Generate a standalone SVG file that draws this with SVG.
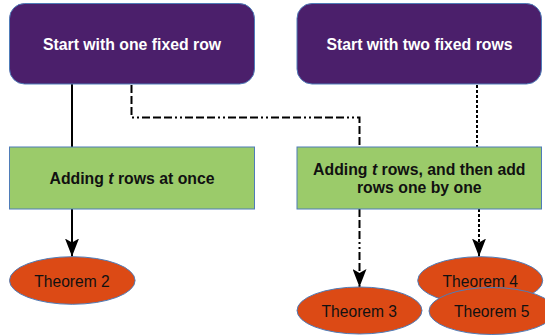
<svg xmlns="http://www.w3.org/2000/svg" width="545" height="335" viewBox="0 0 545 335">
<style>
.start{fill:#4b1f6b;stroke:#4f7cb8;stroke-width:1}
.step{fill:#9bcb6a;stroke:#4f7cb8;stroke-width:1}
.thm{fill:#dc4a15;stroke:#4f7cb8;stroke-width:1}
.wt{font-family:"Liberation Sans",Arial,sans-serif;font-size:15.8px;font-weight:bold;fill:#ffffff;text-anchor:middle}
.bt{font-family:"Liberation Sans",Arial,sans-serif;font-size:15.8px;font-weight:bold;fill:#111111;text-anchor:middle}
.tt{font-family:"Liberation Sans",Arial,sans-serif;font-size:15.6px;fill:#111111;text-anchor:middle}
.c{fill:none;stroke:#000;stroke-width:2}
.dd{stroke-dasharray:8 3 8 3 8 3 2 3 2 3}
.dot{stroke-dasharray:3 2}
</style>
<defs>
<marker id="ah" markerUnits="userSpaceOnUse" viewBox="0 0 18 14" refX="18" refY="7" markerWidth="18" markerHeight="14" orient="auto">
<path d="M0,0 L18,7 L0,14 L4,7 Z" fill="#000"/>
</marker>
</defs>
<g id="connectors">
<line class="c" x1="72" y1="84" x2="72" y2="147"/>
<line class="c" x1="72" y1="209" x2="72" y2="256.5" marker-end="url(#ah)"/>
<polyline class="c dd" points="131.5,85 131.5,117.5 359.5,117.5 359.5,147"/>
<line class="c dot" x1="477" y1="85" x2="477" y2="147"/>
<line class="c dd" x1="359.5" y1="209" x2="359.5" y2="287" marker-end="url(#ah)"/>
<line class="c dot" x1="479" y1="209" x2="479" y2="256.5" marker-end="url(#ah)"/>
</g>
<g id="start1">
<rect class="start" x="9.5" y="3.5" width="245" height="80.5" rx="15"/>
<text class="wt" x="132" y="49.5">Start with one fixed row</text>
</g>
<g id="start2">
<rect class="start" x="297" y="3.5" width="244.5" height="80.5" rx="15"/>
<text class="wt" x="419.5" y="49.5">Start with two fixed rows</text>
</g>
<g id="step1">
<rect class="step" x="9.5" y="147" width="245" height="62"/>
<text class="bt" x="132" y="183.5">Adding <tspan font-style="italic">t</tspan> rows at once</text>
</g>
<g id="step2">
<rect class="step" x="297" y="147" width="244.5" height="62"/>
<text class="bt" x="419.3" y="174.5">Adding <tspan font-style="italic">t</tspan> rows, and then add</text>
<text class="bt" x="419.3" y="192.5">rows one by one</text>
</g>
<g id="thm2">
<ellipse class="thm" cx="72.3" cy="280.5" rx="62.8" ry="23.8"/>
<text class="tt" x="72" y="286.5">Theorem 2</text>
</g>
<g id="thm3">
<ellipse class="thm" cx="359.5" cy="310.5" rx="62.5" ry="23.5"/>
<text class="tt" x="359.3" y="316.7">Theorem 3</text>
</g>
<g id="thm4">
<ellipse class="thm" cx="480.2" cy="280.5" rx="62.5" ry="23.8"/>
<text class="tt" x="480.3" y="286.7">Theorem 4</text>
</g>
<g id="thm5">
<ellipse class="thm" cx="491.8" cy="311" rx="62.8" ry="23.5"/>
<text class="tt" x="491.7" y="316.7">Theorem 5</text>
</g>
</svg>
